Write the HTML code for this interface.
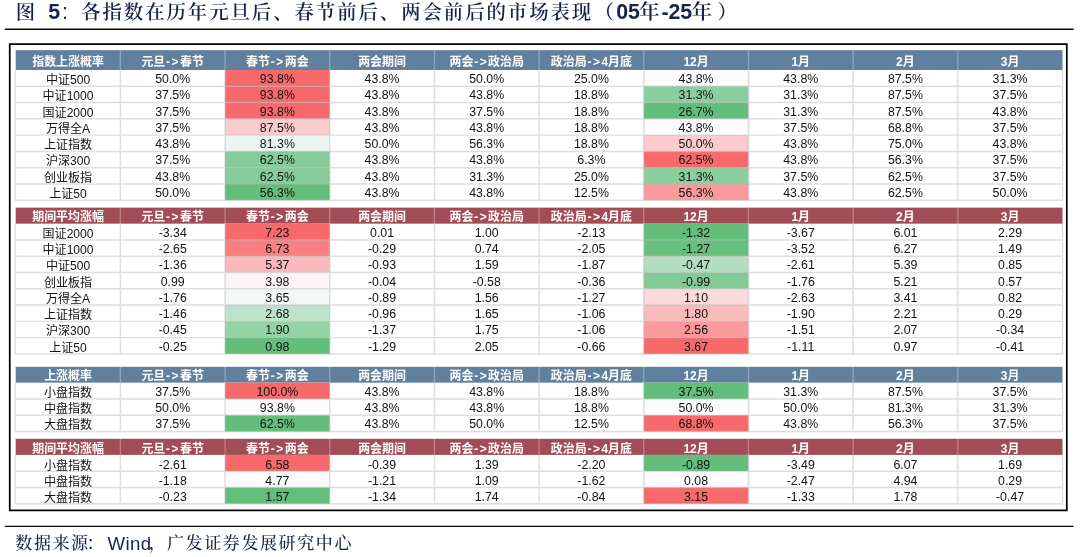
<!DOCTYPE html>
<html lang="zh-CN"><head><meta charset="utf-8"><title>图 5</title>
<style>
html,body{margin:0;padding:0;background:#fff}
body{width:1080px;height:557px;position:relative;overflow:hidden;font-family:"Liberation Sans","Noto Sans CJK SC",sans-serif}
.title,.src{position:absolute;color:#16244a;white-space:nowrap}
.title{left:0;top:0;width:1080px;height:28px}
.title span,.src span{position:absolute;top:0;white-space:nowrap}
.k{font-family:"Liberation Sans","Noto Serif CJK SC",serif;font-weight:600}
.title .k{font-size:19.4px;letter-spacing:1.94px;line-height:24px}
.title .a{font-family:"Liberation Sans",sans-serif;font-weight:700;font-size:21.33px;line-height:24px}
.title .kb{font-weight:600;font-size:20.6px}
svg.ov{position:absolute;left:0;top:0;width:1080px;height:557px;pointer-events:none}
svg.ov path{fill:none}
svg.ov .g{stroke:rgba(180,182,182,.46);stroke-width:1.45}
svg.ov .h{stroke:rgba(255,255,255,.29);stroke-width:1.35}
svg.ov .box{stroke:#000;stroke-width:1.75}
svg.ov .rule{stroke:#0a0a0a;stroke-width:1.35}
.tb{position:absolute;left:15.7px;width:1046.80px}
.hr,.dr{display:flex;width:100%;box-sizing:border-box}
.dr{position:absolute;left:0}
.hr span,.dr span{flex:0 0 104.68px;width:104.68px;text-align:center;box-sizing:border-box;white-space:nowrap;overflow:hidden}
.hr{color:#fff;font-weight:700;font-size:11.95px}
.hr i{font-style:normal;letter-spacing:1.5px;margin-left:.8px}
.dr{font-size:12.35px;color:#111}
.dr span{height:94.34%;transform:scaleY(1.06);transform-origin:0 0}
.dr span:first-child{height:100%;transform:none;line-height:20.6px;font-size:12.05px}
.d1 span:first-child{line-height:22.6px}
.src{left:0;top:531px;width:1080px;height:26px}
.src .k{font-size:17px;letter-spacing:1.6px;line-height:26px;font-weight:500}
.src .a{font-family:"Liberation Sans",sans-serif;font-size:18.67px;line-height:26px;letter-spacing:.4px}
</style></head><body>
<div class="title"><span class="k" style="left:15.7px">图</span><span class="a" style="left:48.3px">5</span><span class="a" style="left:61.9px;font-weight:400">:</span><span class="k" style="left:81.2px">各指数在历年元旦后、春节前后、两会前后的市场表现</span><span class="k" style="left:594.6px">（</span><span class="a" style="left:616.2px">05</span><span class="k kb" style="left:639px">年</span><span class="a" style="left:661.4px">-25</span><span class="k kb" style="left:691.5px">年</span><span class="k" style="left:717.6px">）</span></div>
<svg class="ov" viewBox="0 0 1080 557">
<rect x="15.7" y="50.15" width="1046.80" height="19.85" fill="#60809D"/>
<rect x="225.06" y="70.00" width="104.68" height="16.28" fill="#F8696B"/>
<rect x="643.78" y="70.00" width="104.68" height="16.28" fill="#FCFCFF"/>
<rect x="225.06" y="86.28" width="104.68" height="16.28" fill="#F8696B"/>
<rect x="643.78" y="86.28" width="104.68" height="16.28" fill="#8CCF9F"/>
<rect x="225.06" y="102.56" width="104.68" height="16.28" fill="#F8696B"/>
<rect x="643.78" y="102.56" width="104.68" height="16.28" fill="#63BE7B"/>
<rect x="225.06" y="118.84" width="104.68" height="16.28" fill="#FBCCCE"/>
<rect x="643.78" y="118.84" width="104.68" height="16.28" fill="#FCFCFF"/>
<rect x="225.06" y="135.12" width="104.68" height="16.28" fill="#EBF5F0"/>
<rect x="643.78" y="135.12" width="104.68" height="16.28" fill="#FBCBCE"/>
<rect x="225.06" y="151.40" width="104.68" height="16.28" fill="#85CC98"/>
<rect x="643.78" y="151.40" width="104.68" height="16.28" fill="#F8696B"/>
<rect x="225.06" y="167.68" width="104.68" height="16.28" fill="#85CC98"/>
<rect x="643.78" y="167.68" width="104.68" height="16.28" fill="#8CCF9F"/>
<rect x="225.06" y="183.96" width="104.68" height="16.28" fill="#63BE7B"/>
<rect x="643.78" y="183.96" width="104.68" height="16.28" fill="#F99A9C"/>
<path class="g" d="M14.80 86.28H1063.00M14.80 102.56H1063.00M14.80 118.84H1063.00M14.80 135.12H1063.00M14.80 151.40H1063.00M14.80 167.68H1063.00M14.80 183.96H1063.00M14.80 200.24H1063.00M15.30 70.00V200.24M120.38 70.00V200.24M225.06 70.00V200.24M329.74 70.00V200.24M434.42 70.00V200.24M539.10 70.00V200.24M643.78 70.00V200.24M748.46 70.00V200.24M853.14 70.00V200.24M957.82 70.00V200.24M1062.50 70.00V200.24"/>
<path class="h" d="M120.38 50.15V70.00M225.06 50.15V70.00M329.74 50.15V70.00M434.42 50.15V70.00M539.10 50.15V70.00M643.78 50.15V70.00M748.46 50.15V70.00M853.14 50.15V70.00M957.82 50.15V70.00"/>
<rect x="15.7" y="207.65" width="1046.80" height="16.00" fill="#A24C55"/>
<rect x="225.06" y="223.65" width="104.68" height="16.285" fill="#F8696B"/>
<rect x="643.78" y="223.65" width="104.68" height="16.285" fill="#63BE7B"/>
<rect x="225.06" y="239.94" width="104.68" height="16.285" fill="#F97F81"/>
<rect x="643.78" y="239.94" width="104.68" height="16.285" fill="#68C07F"/>
<rect x="225.06" y="256.22" width="104.68" height="16.285" fill="#FAB9BC"/>
<rect x="643.78" y="256.22" width="104.68" height="16.285" fill="#B3DEC0"/>
<rect x="225.06" y="272.50" width="104.68" height="16.285" fill="#FCF5F8"/>
<rect x="643.78" y="272.50" width="104.68" height="16.285" fill="#82CB96"/>
<rect x="225.06" y="288.79" width="104.68" height="16.285" fill="#F3F8F7"/>
<rect x="643.78" y="288.79" width="104.68" height="16.285" fill="#FBDADC"/>
<rect x="225.06" y="305.07" width="104.68" height="16.285" fill="#BFE3CA"/>
<rect x="643.78" y="305.07" width="104.68" height="16.285" fill="#FABBBD"/>
<rect x="225.06" y="321.36" width="104.68" height="16.285" fill="#95D2A6"/>
<rect x="643.78" y="321.36" width="104.68" height="16.285" fill="#F99A9C"/>
<rect x="225.06" y="337.64" width="104.68" height="16.285" fill="#63BE7B"/>
<rect x="643.78" y="337.64" width="104.68" height="16.285" fill="#F8696B"/>
<path class="g" d="M14.80 239.94H1063.00M14.80 256.22H1063.00M14.80 272.50H1063.00M14.80 288.79H1063.00M14.80 305.07H1063.00M14.80 321.36H1063.00M14.80 337.64H1063.00M14.80 353.93H1063.00M15.30 223.65V353.93M120.38 223.65V353.93M225.06 223.65V353.93M329.74 223.65V353.93M434.42 223.65V353.93M539.10 223.65V353.93M643.78 223.65V353.93M748.46 223.65V353.93M853.14 223.65V353.93M957.82 223.65V353.93M1062.50 223.65V353.93"/>
<path class="h" d="M120.38 207.65V223.65M225.06 207.65V223.65M329.74 207.65V223.65M434.42 207.65V223.65M539.10 207.65V223.65M643.78 207.65V223.65M748.46 207.65V223.65M853.14 207.65V223.65M957.82 207.65V223.65"/>
<rect x="15.7" y="366.8" width="1046.80" height="15.85" fill="#60809D"/>
<rect x="225.06" y="382.65" width="104.68" height="16.3" fill="#F8696B"/>
<rect x="643.78" y="382.65" width="104.68" height="16.3" fill="#63BE7B"/>
<rect x="225.06" y="398.95" width="104.68" height="16.3" fill="#FCFCFF"/>
<rect x="643.78" y="398.95" width="104.68" height="16.3" fill="#FCFCFF"/>
<rect x="225.06" y="415.25" width="104.68" height="16.3" fill="#63BE7B"/>
<rect x="643.78" y="415.25" width="104.68" height="16.3" fill="#F8696B"/>
<path class="g" d="M14.80 398.95H1063.00M14.80 415.25H1063.00M14.80 431.55H1063.00M15.30 382.65V431.55M120.38 382.65V431.55M225.06 382.65V431.55M329.74 382.65V431.55M434.42 382.65V431.55M539.10 382.65V431.55M643.78 382.65V431.55M748.46 382.65V431.55M853.14 382.65V431.55M957.82 382.65V431.55M1062.50 382.65V431.55"/>
<path class="h" d="M120.38 366.80V382.65M225.06 366.80V382.65M329.74 366.80V382.65M434.42 366.80V382.65M539.10 366.80V382.65M643.78 366.80V382.65M748.46 366.80V382.65M853.14 366.80V382.65M957.82 366.80V382.65"/>
<rect x="15.7" y="438.8" width="1046.80" height="16.10" fill="#A24C55"/>
<rect x="225.06" y="454.90" width="104.68" height="16.3" fill="#F8696B"/>
<rect x="643.78" y="454.90" width="104.68" height="16.3" fill="#63BE7B"/>
<rect x="225.06" y="471.20" width="104.68" height="16.3" fill="#FCFCFF"/>
<rect x="643.78" y="471.20" width="104.68" height="16.3" fill="#FCFCFF"/>
<rect x="225.06" y="487.50" width="104.68" height="16.3" fill="#63BE7B"/>
<rect x="643.78" y="487.50" width="104.68" height="16.3" fill="#F8696B"/>
<path class="g" d="M14.80 471.20H1063.00M14.80 487.50H1063.00M14.80 503.80H1063.00M15.30 454.90V503.80M120.38 454.90V503.80M225.06 454.90V503.80M329.74 454.90V503.80M434.42 454.90V503.80M539.10 454.90V503.80M643.78 454.90V503.80M748.46 454.90V503.80M853.14 454.90V503.80M957.82 454.90V503.80M1062.50 454.90V503.80"/>
<path class="h" d="M120.38 438.80V454.90M225.06 438.80V454.90M329.74 438.80V454.90M434.42 438.80V454.90M539.10 438.80V454.90M643.78 438.80V454.90M748.46 438.80V454.90M853.14 438.80V454.90M957.82 438.80V454.90"/>
<path class="box" d="M9.75 44.1H1066.8V510.45H9.75Z"/>
<path class="rule" d="M4.8 29.25H1073.6M4.8 526.4H1073.6"/>
</svg>
<div class="tb" style="top:50.15px;height:150.09px">
<div class="hr" style="height:19.85px;line-height:24.25px"><span>指数上涨概率</span><span>元旦<i>-&gt;</i>春节</span><span>春节<i>-&gt;</i>两会</span><span>两会期间</span><span>两会<i>-&gt;</i>政治局</span><span>政治局<i>-&gt;</i>4月底</span><span>12月</span><span>1月</span><span>2月</span><span>3月</span></div>
<div class="dr" style="top:19.85px;height:16.28px;line-height:17.40px"><span>中证500</span><span>50.0%</span><span>93.8%</span><span>43.8%</span><span>50.0%</span><span>25.0%</span><span>43.8%</span><span>43.8%</span><span>87.5%</span><span>31.3%</span></div>
<div class="dr" style="top:36.13px;height:16.28px;line-height:17.40px"><span>中证1000</span><span>37.5%</span><span>93.8%</span><span>43.8%</span><span>43.8%</span><span>18.8%</span><span>31.3%</span><span>31.3%</span><span>87.5%</span><span>37.5%</span></div>
<div class="dr" style="top:52.41px;height:16.28px;line-height:17.40px"><span>国证2000</span><span>37.5%</span><span>93.8%</span><span>43.8%</span><span>37.5%</span><span>18.8%</span><span>26.7%</span><span>31.3%</span><span>87.5%</span><span>43.8%</span></div>
<div class="dr" style="top:68.69px;height:16.28px;line-height:17.40px"><span>万得全A</span><span>37.5%</span><span>87.5%</span><span>43.8%</span><span>43.8%</span><span>18.8%</span><span>43.8%</span><span>37.5%</span><span>68.8%</span><span>37.5%</span></div>
<div class="dr" style="top:84.97px;height:16.28px;line-height:17.40px"><span>上证指数</span><span>43.8%</span><span>81.3%</span><span>50.0%</span><span>56.3%</span><span>18.8%</span><span>50.0%</span><span>43.8%</span><span>75.0%</span><span>43.8%</span></div>
<div class="dr" style="top:101.25px;height:16.28px;line-height:17.40px"><span>沪深300</span><span>37.5%</span><span>62.5%</span><span>43.8%</span><span>43.8%</span><span>6.3%</span><span>62.5%</span><span>43.8%</span><span>56.3%</span><span>37.5%</span></div>
<div class="dr" style="top:117.53px;height:16.28px;line-height:17.40px"><span>创业板指</span><span>43.8%</span><span>62.5%</span><span>43.8%</span><span>31.3%</span><span>25.0%</span><span>31.3%</span><span>37.5%</span><span>62.5%</span><span>37.5%</span></div>
<div class="dr" style="top:133.81px;height:16.28px;line-height:17.40px"><span>上证50</span><span>50.0%</span><span>56.3%</span><span>43.8%</span><span>43.8%</span><span>12.5%</span><span>56.3%</span><span>43.8%</span><span>62.5%</span><span>50.0%</span></div>
</div>
<div class="tb" style="top:207.65px;height:146.28px">
<div class="hr" style="height:16.00px;line-height:18.40px"><span>期间平均涨幅</span><span>元旦<i>-&gt;</i>春节</span><span>春节<i>-&gt;</i>两会</span><span>两会期间</span><span>两会<i>-&gt;</i>政治局</span><span>政治局<i>-&gt;</i>4月底</span><span>12月</span><span>1月</span><span>2月</span><span>3月</span></div>
<div class="dr" style="top:16.00px;height:16.285px;line-height:17.40px"><span>国证2000</span><span>-3.34</span><span>7.23</span><span>0.01</span><span>1.00</span><span>-2.13</span><span>-1.32</span><span>-3.67</span><span>6.01</span><span>2.29</span></div>
<div class="dr" style="top:32.28px;height:16.285px;line-height:17.40px"><span>中证1000</span><span>-2.65</span><span>6.73</span><span>-0.29</span><span>0.74</span><span>-2.05</span><span>-1.27</span><span>-3.52</span><span>6.27</span><span>1.49</span></div>
<div class="dr" style="top:48.57px;height:16.285px;line-height:17.40px"><span>中证500</span><span>-1.36</span><span>5.37</span><span>-0.93</span><span>1.59</span><span>-1.87</span><span>-0.47</span><span>-2.61</span><span>5.39</span><span>0.85</span></div>
<div class="dr" style="top:64.86px;height:16.285px;line-height:17.40px"><span>创业板指</span><span>0.99</span><span>3.98</span><span>-0.04</span><span>-0.58</span><span>-0.36</span><span>-0.99</span><span>-1.76</span><span>5.21</span><span>0.57</span></div>
<div class="dr" style="top:81.14px;height:16.285px;line-height:17.40px"><span>万得全A</span><span>-1.76</span><span>3.65</span><span>-0.89</span><span>1.56</span><span>-1.27</span><span>1.10</span><span>-2.63</span><span>3.41</span><span>0.82</span></div>
<div class="dr" style="top:97.42px;height:16.285px;line-height:17.40px"><span>上证指数</span><span>-1.46</span><span>2.68</span><span>-0.96</span><span>1.65</span><span>-1.06</span><span>1.80</span><span>-1.90</span><span>2.21</span><span>0.29</span></div>
<div class="dr" style="top:113.71px;height:16.285px;line-height:17.40px"><span>沪深300</span><span>-0.45</span><span>1.90</span><span>-1.37</span><span>1.75</span><span>-1.06</span><span>2.56</span><span>-1.51</span><span>2.07</span><span>-0.34</span></div>
<div class="dr" style="top:130.00px;height:16.285px;line-height:17.40px"><span>上证50</span><span>-0.25</span><span>0.98</span><span>-1.29</span><span>2.05</span><span>-0.66</span><span>3.67</span><span>-1.11</span><span>0.97</span><span>-0.41</span></div>
</div>
<div class="tb" style="top:366.8px;height:64.75px">
<div class="hr" style="height:15.85px;line-height:18.25px"><span>上涨概率</span><span>元旦<i>-&gt;</i>春节</span><span>春节<i>-&gt;</i>两会</span><span>两会期间</span><span>两会<i>-&gt;</i>政治局</span><span>政治局<i>-&gt;</i>4月底</span><span>12月</span><span>1月</span><span>2月</span><span>3月</span></div>
<div class="dr" style="top:15.85px;height:16.3px;line-height:17.40px"><span>小盘指数</span><span>37.5%</span><span>100.0%</span><span>43.8%</span><span>43.8%</span><span>18.8%</span><span>37.5%</span><span>31.3%</span><span>87.5%</span><span>37.5%</span></div>
<div class="dr" style="top:32.15px;height:16.3px;line-height:17.40px"><span>中盘指数</span><span>50.0%</span><span>93.8%</span><span>43.8%</span><span>43.8%</span><span>18.8%</span><span>50.0%</span><span>50.0%</span><span>81.3%</span><span>31.3%</span></div>
<div class="dr" style="top:48.45px;height:16.3px;line-height:17.40px"><span>大盘指数</span><span>37.5%</span><span>62.5%</span><span>43.8%</span><span>50.0%</span><span>12.5%</span><span>68.8%</span><span>43.8%</span><span>56.3%</span><span>37.5%</span></div>
</div>
<div class="tb" style="top:438.8px;height:65.00px">
<div class="hr" style="height:16.10px;line-height:20.50px"><span>期间平均涨幅</span><span>元旦<i>-&gt;</i>春节</span><span>春节<i>-&gt;</i>两会</span><span>两会期间</span><span>两会<i>-&gt;</i>政治局</span><span>政治局<i>-&gt;</i>4月底</span><span>12月</span><span>1月</span><span>2月</span><span>3月</span></div>
<div class="dr d1" style="top:16.10px;height:16.3px;line-height:19.29px"><span>小盘指数</span><span>-2.61</span><span>6.58</span><span>-0.39</span><span>1.39</span><span>-2.20</span><span>-0.89</span><span>-3.49</span><span>6.07</span><span>1.69</span></div>
<div class="dr d1" style="top:32.40px;height:16.3px;line-height:19.29px"><span>中盘指数</span><span>-1.18</span><span>4.77</span><span>-1.21</span><span>1.09</span><span>-1.62</span><span>0.08</span><span>-2.47</span><span>4.94</span><span>0.29</span></div>
<div class="dr d1" style="top:48.70px;height:16.3px;line-height:19.29px"><span>大盘指数</span><span>-0.23</span><span>1.57</span><span>-1.34</span><span>1.74</span><span>-0.84</span><span>3.15</span><span>-1.33</span><span>1.78</span><span>-0.47</span></div>
</div>
<div class="src"><span class="k" style="left:15.3px">数据来源</span><span class="k" style="left:86.5px">：</span><span class="a" style="left:107.4px">Wind</span><span class="k" style="left:148.7px">，</span><span class="k" style="left:167px">广发证券发展研究中心</span></div>
</body></html>
